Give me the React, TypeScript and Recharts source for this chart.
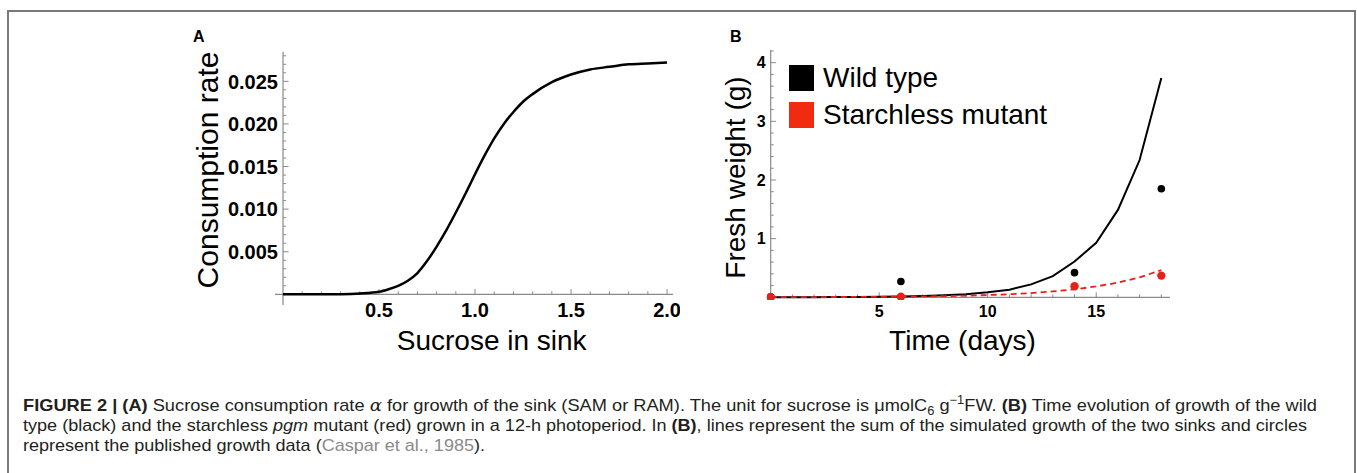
import React from 'react';
import { LineChart, ComposedChart, Line, Scatter, XAxis, YAxis, ReferenceLine, Legend } from 'recharts';

const FONT = '"Liberation Sans", Arial, Helvetica, sans-serif';
const AXIS_GRAY = '#8a8a8a';
const RED = '#e8201a';

// Panel A: sucrose consumption rate vs sucrose in sink
const sucrose = [0, 0.1, 0.2, 0.3, 0.4, 0.5, 0.55, 0.6, 0.65, 0.7, 0.75, 0.8, 0.85, 0.9, 0.95, 1.0, 1.05, 1.1, 1.15, 1.2, 1.25, 1.3, 1.4, 1.5, 1.6, 1.7, 1.8, 1.9, 2.0];
const consumption = [0, 0, 0, 0.00002, 0.0001, 0.0003, 0.0006, 0.001, 0.0016, 0.0025, 0.0039, 0.0056, 0.0075, 0.0096, 0.0118, 0.0141, 0.0163, 0.0183, 0.02, 0.0214, 0.0226, 0.0235, 0.0249, 0.0258, 0.0264, 0.0267, 0.027, 0.0271, 0.0272];
const aXTicks = [0.5, 1.0, 1.5, 2.0];
const aYTicks = [0.005, 0.01, 0.015, 0.02, 0.025];

// Panel B: fresh weight over time
const simDays = [0, 1, 2, 3, 4, 5, 6, 7, 8, 9, 10, 11, 12, 13, 14, 15, 16, 17, 18];
const wildSim = [0.001, 0.002, 0.003, 0.004, 0.006, 0.009, 0.014, 0.022, 0.034, 0.053, 0.085, 0.13, 0.22, 0.36, 0.61, 0.93, 1.49, 2.34, 3.74];
const mutantSim = [0.002, 0.003, 0.004, 0.005, 0.006, 0.008, 0.011, 0.015, 0.02, 0.028, 0.038, 0.052, 0.072, 0.1, 0.136, 0.185, 0.25, 0.34, 0.465];
const obsDays = [0, 6, 14, 18];
const wildObs = [0.01, 0.27, 0.42, 1.85];
const mutantObs = [0, 0.01, 0.19, 0.37];
const bXTicks = [5, 10, 15];
const bYTicks = [1, 2, 3, 4];

const legendItems = [
  { name: 'Wild type', color: '#000000' },
  { name: 'Starchless mutant', color: '#f22a10' },
];

// minor tick positions (decoration only)
function steps(count: number, step: number) {
  const out: number[] = [];
  for (let i = 1; i <= count; i++) out.push(Math.round(i * step * 1e6) / 1e6);
  return out;
}
const has = (list: number[], v: number) => list.some((t) => Math.abs(t - v) < 1e-9);

function XTick({ x, y, payload, size, digits, dy }: any) {
  return (
    <text x={x} y={y} dy={dy} textAnchor="middle" fontSize={size} fontWeight="bold" fontFamily={FONT} fill="#000">
      {Number(payload.value).toFixed(digits)}
    </text>
  );
}

function YTick({ x, y, payload, size, digits, dx }: any) {
  return (
    <text x={x + dx} y={y} dy={size * 0.36} textAnchor="end" fontSize={size} fontWeight="bold" fontFamily={FONT} fill="#000">
      {Number(payload.value).toFixed(digits)}
    </text>
  );
}

function PanelA() {
  const data = sucrose.map((s, i) => ({ s, rate: consumption[i] }));
  const xMinor = steps(20, 0.1);
  const yMinor = steps(28, 0.001);
  return (
    <div style={{ position: 'absolute', left: 180, top: 20 }}>
      <LineChart width={500} height={345} data={data} margin={{ top: 31.7, right: 7, bottom: 0, left: 0 }}>
        <XAxis
          dataKey="s"
          type="number"
          domain={[-0.0417, 2.031]}
          allowDataOverflow
          ticks={aXTicks}
          interval={0}
          height={60}
          axisLine={false}
          tickLine={false}
          tickSize={0}
          tickMargin={0}
          tick={(p: any) => <XTick {...p} size={20} digits={1} dy={12} />}
          label={{
            content: () => (
              <text x={311.7} y={330} textAnchor="middle" fontSize={28} fontFamily={FONT} fill="#000">Sucrose in sink</text>
            ),
          }}
        />
        <YAxis
          type="number"
          domain={[-0.001256, 0.02848]}
          allowDataOverflow
          ticks={aYTicks}
          interval={0}
          width={95}
          axisLine={false}
          tickLine={false}
          tickSize={0}
          tickMargin={0}
          tick={(p: any) => <YTick {...p} size={20} digits={3} dx={3} />}
          label={{
            content: () => (
              <text x={38} y={150} transform="rotate(-90 38 150)" textAnchor="middle" fontSize={30} fontFamily={FONT} fill="#000">Consumption rate</text>
            ),
          }}
        />
        <ReferenceLine x={0} stroke={AXIS_GRAY} strokeWidth={1.2} />
        <ReferenceLine y={0} stroke={AXIS_GRAY} strokeWidth={1.2} />
        {xMinor.map((v) => (
          <ReferenceLine key={'ax' + v} segment={[{ x: v, y: 0 }, { x: v, y: has(aXTicks, v) ? 0.0006 : 0.00035 }]} stroke={AXIS_GRAY} />
        ))}
        {yMinor.map((v) => (
          <ReferenceLine key={'ay' + v} segment={[{ x: 0, y: v }, { x: has(aYTicks, v) ? 0.029 : 0.016, y: v }]} stroke={AXIS_GRAY} />
        ))}
        <Line dataKey="rate" type="monotone" stroke="#000" strokeWidth={2.5} dot={false} isAnimationActive={false} />
      </LineChart>
    </div>
  );
}

function LegendBox() {
  return (
    <div style={{ fontFamily: FONT }}>
      {legendItems.map((item) => (
        <div key={item.name} style={{ display: 'flex', alignItems: 'center', height: 36.7 }}>
          <div style={{ width: 25, height: 26, background: item.color, marginRight: 9 }} />
          <span style={{ fontSize: 28, color: '#000', lineHeight: '26px' }}>{item.name}</span>
        </div>
      ))}
    </div>
  );
}

function PanelB() {
  const wildLine = simDays.map((t, i) => ({ t, v: wildSim[i] }));
  const mutantLine = simDays.map((t, i) => ({ t, v: mutantSim[i] }));
  const wildPts = obsDays.map((t, i) => ({ t, v: wildObs[i] }));
  const mutantPts = obsDays.map((t, i) => ({ t, v: mutantObs[i] }));
  const xMinor = steps(18, 1);
  const yMinor = steps(21, 0.2);
  return (
    <div style={{ position: 'absolute', left: 700, top: 20 }}>
      <ComposedChart width={480} height={345} margin={{ top: 30, right: 10, bottom: 0, left: 0 }}>
        <XAxis
          dataKey="t"
          type="number"
          domain={[-0.184, 18.4]}
          allowDataOverflow
          ticks={bXTicks}
          interval={0}
          height={65}
          axisLine={false}
          tickLine={false}
          tickSize={0}
          tickMargin={0}
          tick={(p: any) => <XTick {...p} size={16} digits={0} dy={17.4} />}
          label={{
            content: () => (
              <text x={262.5} y={329.5} textAnchor="middle" fontSize={28} fontFamily={FONT} fill="#000">Time (days)</text>
            ),
          }}
        />
        <YAxis
          type="number"
          domain={[-0.046, 4.216]}
          allowDataOverflow
          ticks={bYTicks}
          interval={0}
          width={66.7}
          axisLine={false}
          tickLine={false}
          tickSize={0}
          tickMargin={0}
          tick={(p: any) => <YTick {...p} size={16} digits={0} dx={-1} />}
          label={{
            content: () => (
              <text x={45} y={157.5} transform="rotate(-90 45 157.5)" textAnchor="middle" fontSize={28} fontFamily={FONT} fill="#000">Fresh weight (g)</text>
            ),
          }}
        />
        <ReferenceLine x={0} stroke={AXIS_GRAY} strokeWidth={1.2} />
        <ReferenceLine y={0} stroke={AXIS_GRAY} strokeWidth={1.2} />
        {xMinor.map((v) => (
          <ReferenceLine key={'bx' + v} segment={[{ x: v, y: 0 }, { x: v, y: has(bXTicks, v) ? 0.085 : 0.05 }]} stroke={AXIS_GRAY} />
        ))}
        {yMinor.map((v) => (
          <ReferenceLine key={'by' + v} segment={[{ x: 0, y: v }, { x: has(bYTicks, v) ? 0.25 : 0.14, y: v }]} stroke={AXIS_GRAY} />
        ))}
        <Line data={wildLine} dataKey="v" type="linear" stroke="#000" strokeWidth={2} dot={false} isAnimationActive={false} />
        <Line data={mutantLine} dataKey="v" type="linear" stroke={RED} strokeWidth={1.8} strokeDasharray="6 4" dot={false} isAnimationActive={false} />
        <Scatter data={wildPts} dataKey="v" isAnimationActive={false} shape={(p: any) => <circle cx={p.cx} cy={p.cy} r={3.8} fill="#000" />} />
        <Scatter data={mutantPts} dataKey="v" isAnimationActive={false} shape={(p: any) => <circle cx={p.cx} cy={p.cy} r={4.2} fill={RED} />} />
        <Legend
          layout="vertical"
          align="center"
          verticalAlign="middle"
          wrapperStyle={{ left: 89, top: 40, width: 300, height: 'auto' }}
          content={() => <LegendBox />}
        />
      </ComposedChart>
    </div>
  );
}

export default function App() {
  return (
    <div style={{ position: 'absolute', left: 0, top: 0, width: 1357, height: 473, background: '#fff', overflow: 'hidden' }}>
      <svg width={1357} height={473} style={{ position: 'absolute', left: 0, top: 0 }} fontFamily={FONT}>
        <path d="M8 480 L8 11 L1355 11 L1355 480" fill="none" stroke="#7a7a7a" strokeWidth={2} />
        <text x={193} y={41.7} fontSize={16} fontWeight="bold" fill="#000">A</text>
        <text x={730} y={41.7} fontSize={16} fontWeight="bold" fill="#000">B</text>
        <text x={23} y={410.5} fontSize={17} fill="#231f20" textLength={1294} lengthAdjust="spacingAndGlyphs">
          <tspan fontWeight="bold">{'FIGURE 2 | (A)'}</tspan>
          {' Sucrose consumption rate '}
          <tspan fontStyle="italic" fontFamily="DejaVu Serif">{'α'}</tspan>
          {' for growth of the sink (SAM or RAM). The unit for sucrose is μmolC'}
          <tspan fontSize={12} dy={4}>{'6'}</tspan>
          <tspan dy={-4}>{' g'}</tspan>
          <tspan fontSize={12} dy={-7}>{'−1'}</tspan>
          <tspan dy={7}>{'FW. '}</tspan>
          <tspan fontWeight="bold">{'(B)'}</tspan>
          {' Time evolution of growth of the wild'}
        </text>
        <text x={23} y={430.5} fontSize={17} fill="#231f20" textLength={1284} lengthAdjust="spacingAndGlyphs">
          {'type (black) and the starchless '}
          <tspan fontStyle="italic">{'pgm'}</tspan>
          {' mutant (red) grown in a 12-h photoperiod. In '}
          <tspan fontWeight="bold">{'(B)'}</tspan>
          {', lines represent the sum of the simulated growth of the two sinks and circles'}
        </text>
        <text x={23} y={450.5} fontSize={17} fill="#231f20" textLength={462} lengthAdjust="spacingAndGlyphs">
          {'represent the published growth data ('}
          <tspan fill="#8a8a8a">{'Caspar et al., 1985'}</tspan>
          {').'}
        </text>
      </svg>
      <PanelA />
      <PanelB />
    </div>
  );
}
